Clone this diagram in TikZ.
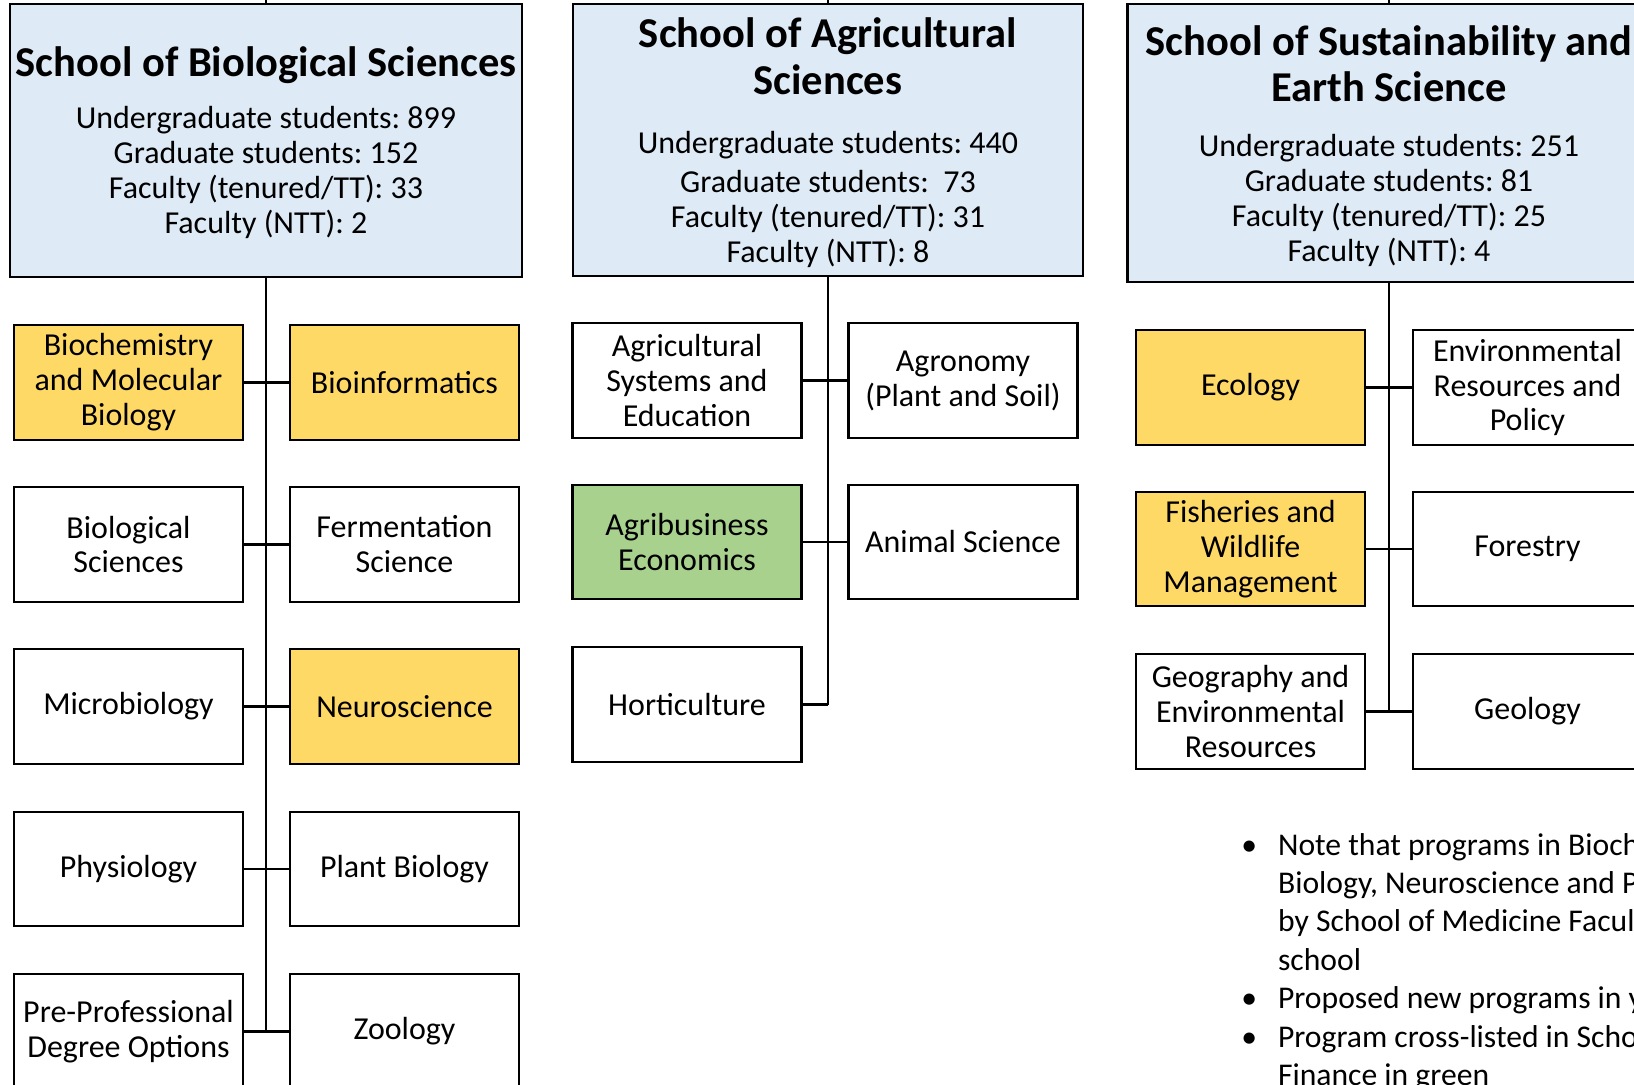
\documentclass[tikz,border=0pt]{standalone}
\usepackage{fontspec}
\setmainfont{Carlito}
\usepackage{xcolor}
\usetikzlibrary{positioning}
\definecolor{schoolblue}{HTML}{DEEBF7}
\definecolor{newyellow}{HTML}{FFD966}
\definecolor{crossgreen}{HTML}{A9D18E}
\frenchspacing
\newcommand{\titlefont}{\bfseries\fontsize{24.2}{26.2}\selectfont}
\newcommand{\statfont}{\mdseries\fontsize{18.2}{19.9}\selectfont}
\tikzset{
    school/.style={draw, fill=schoolblue, line width=1.3pt, align=center, inner sep=0pt, font=\statfont},
    dept/.style={draw, fill=white, line width=1.3pt, align=center, inner sep=0pt,
      minimum width=4.58cm, minimum height=2.29cm, font=\statfont},
    newdept/.style={dept, fill=newyellow},
    crossdept/.style={dept, fill=crossgreen},
    link/.style={line width=1.3pt}}

\begin{document}
\begin{tikzpicture}[x=0.02cm, y=-0.02cm]
\useasboundingbox (0,0) rectangle (1634,1085);
\clip (0,0) rectangle (1634,1085);

%Biological Sciences
\node[school, minimum width=10.24cm, minimum height=5.46cm] (bio) at (266,140.5)
  {\rule{0pt}{19.4pt}\titlefont School of Biological Sciences\\[10pt]Undergraduate students: 899\\
   Graduate students: 152\\ Faculty (tenured/TT): 33\\ Faculty (NTT): 2};
\coordinate (biotop) at (266,0);
\node[newdept] (bio1l) at (128.5,382.5) {Biochemistry\\and Molecular\\Biology};
\node[newdept] (bio1r) at (404.5,382.5) {Bioinformatics};
\node[dept] (bio2l) at (128.5,544.5) {Biological\\Sciences};
\node[dept] (bio2r) at (404.5,544.5) {Fermentation\\Science};
\node[dept] (bio3l) at (128.5,706.5) {Microbiology};
\node[newdept] (bio3r) at (404.5,706.5) {Neuroscience};
\node[dept] (bio4l) at (128.5,869) {Physiology};
\node[dept] (bio4r) at (404.5,869) {Plant Biology};
\node[dept] (bio5l) at (128.5,1031.5) {Pre-Professional\\Degree Options};
\node[dept] (bio5r) at (404.5,1031.5) {Zoology};
\draw[link] (biotop) -- (bio.north);
\draw[link] (bio.south) -- (bio.south |- bio5l.east);
\draw[link] (bio1l.east) -- (bio1r.west);
\draw[link] (bio2l.east) -- (bio2r.west);
\draw[link] (bio3l.east) -- (bio3r.west);
\draw[link] (bio4l.east) -- (bio4r.west);
\draw[link] (bio5l.east) -- (bio5r.west);

%Agricultural Sciences
\node[school, minimum width=10.2cm, minimum height=5.44cm] (ag) at (828,140)
  {\rule{0pt}{20pt}\titlefont School of Agricultural\\[4.3pt]\titlefont Sciences\\[14pt]Undergraduate students: 440\\[2pt]
   Graduate students:~ 73\\ Faculty (tenured/TT): 31\\ Faculty (NTT): 8};
\coordinate (agtop) at (828,0);
\node[dept] (ag1l) at (687,380.5) {Agricultural\\Systems and\\Education};
\node[dept] (ag1r) at (963,380.5) {Agronomy\\(Plant and Soil)};
\node[crossdept] (ag2l) at (687,542) {Agribusiness\\Economics};
\node[dept] (ag2r) at (963,542) {Animal Science};
\node[dept] (ag3l) at (687,704.5) {Horticulture};
\coordinate (agend) at (ag.south |- ag3l.east);
\draw[link] (agtop) -- (ag.north);
\draw[link] (ag.south) -- (agend);
\draw[link] (ag1l.east) -- (ag1r.west);
\draw[link] (ag2l.east) -- (ag2r.west);
\draw[link] (ag3l.east) -- (agend);

%Sustainability and Earth Science
\node[school, minimum width=10.46cm, minimum height=5.56cm] (earth) at (1389,143)
  {\rule{0pt}{20.6pt}\titlefont School of Sustainability and\\[4.3pt]\titlefont Earth Science\\[11.3pt]Undergraduate students: 251\\
   Graduate students: 81\\ Faculty (tenured/TT): 25\\ Faculty (NTT): 4};
\coordinate (earthtop) at (1389,0);
\node[newdept] (earth1l) at (1250.5,387.5) {Ecology};
\node[dept] (earth1r) at (1527.5,387.5) {Environmental\\Resources and\\Policy};
\node[newdept] (earth2l) at (1250.5,549) {Fisheries and\\Wildlife\\Management};
\node[dept] (earth2r) at (1527.5,549) {Forestry};
\node[dept] (earth3l) at (1250.5,711.5) {Geography and\\Environmental\\Resources};
\node[dept] (earth3r) at (1527.5,711.5) {Geology};
\draw[link] (earthtop) -- (earth.north);
\draw[link] (earth.south) -- (earth.south |- earth3l.east);
\draw[link] (earth1l.east) -- (earth1r.west);
\draw[link] (earth2l.east) -- (earth2r.west);
\draw[link] (earth3l.east) -- (earth3r.west);

%Notes
\node[anchor=base west, inner sep=0pt, font=\fontsize{18}{21.9}\selectfont] (notes) at (1241,855)
  {\begin{tabular}[t]{@{}l@{\hspace{0.42cm}}l@{}}
   \textbullet & Note that programs in Biochemistry\\
               & Biology, Neuroscience and Physiology\\
               & by School of Medicine Faculty\\
               & school\\
   \textbullet & Proposed new programs in yellow\\
   \textbullet & Program cross-listed in School of\\
               & Finance in green
   \end{tabular}};
\end{tikzpicture}
\end{document}
